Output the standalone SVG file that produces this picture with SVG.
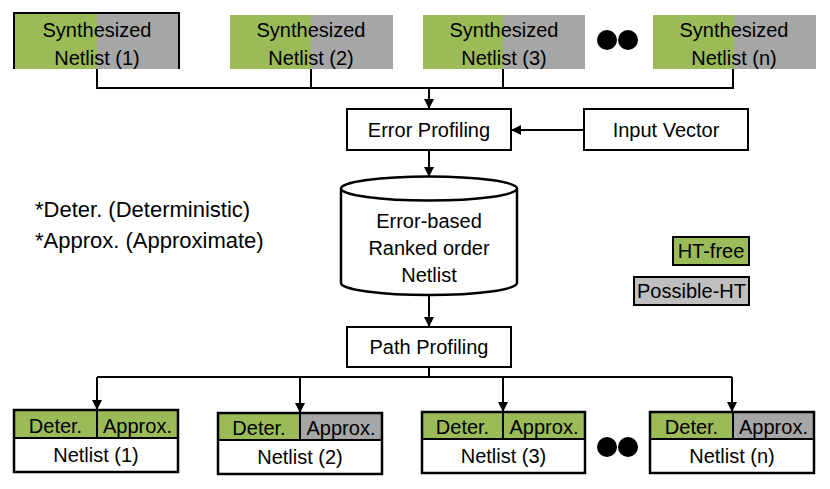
<svg xmlns="http://www.w3.org/2000/svg" width="830" height="489" viewBox="0 0 830 489">
<style>
text{font-family:"Liberation Sans",Arial,sans-serif;font-size:20px;fill:#000;text-anchor:middle}
.g{fill:#9BBB59}
.gr{fill:#A6A6A6}
.box{fill:#fff;stroke:#000;stroke-width:2}
.ln{fill:none;stroke:#000;stroke-width:2}
.ol{fill:none;stroke:#000;stroke-width:2.5}
.lg{text-anchor:start;font-size:22px}
</style>
<defs>
<marker id="ah" markerWidth="10" markerHeight="10" refX="9" refY="5" orient="auto" markerUnits="userSpaceOnUse">
<path d="M0,0 L10,5 L0,10 Z" fill="#000"/>
</marker>
</defs>
<rect width="830" height="489" fill="#fff"/>

<g id="syn1">
<rect class="g" x="14" y="13" width="83" height="56"/>
<rect class="gr" x="97" y="13" width="82" height="56"/>
<path class="ln" d="M14,69 V13 H179 V69"/>
<text x="97" y="37">Synthesized</text>
<text x="97" y="65">Netlist (1)</text>
</g>
<g id="syn2">
<rect class="g" x="230" y="15" width="81" height="54"/>
<rect class="gr" x="311" y="15" width="82" height="54"/>
<text x="311" y="37">Synthesized</text>
<text x="311" y="65">Netlist (2)</text>
</g>
<g id="syn3">
<rect class="g" x="423" y="15" width="80" height="54"/>
<rect class="gr" x="503" y="15" width="82" height="54"/>
<text x="504" y="37">Synthesized</text>
<text x="504" y="65">Netlist (3)</text>
</g>
<g id="dots-top">
<circle cx="607" cy="40" r="10"/>
<circle cx="628" cy="40" r="10"/>
</g>
<g id="synn">
<rect class="g" x="653" y="15" width="81" height="54"/>
<rect class="gr" x="734" y="15" width="82" height="54"/>
<text x="734" y="37">Synthesized</text>
<text x="734" y="65">Netlist (n)</text>
</g>

<g id="errprof">
<rect class="box" x="347" y="109" width="164" height="41"/>
<text x="429" y="137">Error Profiling</text>
</g>
<g id="inputvec">
<rect class="box" x="584" y="109" width="164" height="41"/>
<text x="666" y="137">Input Vector</text>
</g>

<g id="db">
<path d="M341,188.5 V283 A88,12 0 0 0 517,283 V188.5" fill="#fff" stroke="#000" stroke-width="2.5"/>
<ellipse cx="429" cy="188.5" rx="88" ry="12" fill="#fff" stroke="#000" stroke-width="2.5"/>
<text x="429" y="228">Error-based</text>
<text x="429" y="255">Ranked order</text>
<text x="429" y="282">Netlist</text>
</g>

<g id="notes">
<text class="lg" x="35" y="217">*Deter. (Deterministic)</text>
<text class="lg" x="35" y="248">*Approx. (Approximate)</text>
</g>

<g id="legend-htfree">
<rect class="g" x="673" y="237" width="76" height="28" stroke="#000" stroke-width="2"/>
<text x="711" y="258" font-size="19">HT-free</text>
</g>
<g id="legend-possible">
<rect x="634" y="277" width="115" height="28" fill="#BFBFBF" stroke="#000" stroke-width="2"/>
<text x="691.5" y="298" font-size="19">Possible-HT</text>
</g>

<g id="pathprof">
<rect class="box" x="347" y="327" width="164" height="40"/>
<text x="429" y="354">Path Profiling</text>
</g>

<g id="net1">
<rect class="g" x="14" y="410" width="164" height="28"/>
<rect x="14" y="438" width="164" height="34" fill="#fff"/>
<rect class="ol" x="14" y="410" width="164" height="62"/>
<path class="ln" d="M14,438 H178 M97,410 V438"/>
<text x="55.5" y="433">Deter.</text>
<text x="137.5" y="433">Approx.</text>
<text x="96" y="462">Netlist (1)</text>
</g>
<g id="net2">
<rect class="g" x="218" y="413" width="82" height="27"/>
<rect class="gr" x="300" y="413" width="82" height="27"/>
<rect class="ol" x="218" y="413" width="164" height="61"/>
<path class="ln" d="M218,440 H382 M300,413 V440"/>
<text x="259" y="435">Deter.</text>
<text x="341" y="435">Approx.</text>
<text x="300" y="464">Netlist (2)</text>
</g>
<g id="net3">
<rect class="g" x="422" y="412" width="163" height="27"/>
<rect class="ol" x="422" y="412" width="163" height="61"/>
<path class="ln" d="M422,439 H585 M503,412 V439"/>
<text x="462.5" y="434">Deter.</text>
<text x="544" y="434">Approx.</text>
<text x="503.5" y="463">Netlist (3)</text>
</g>
<g id="dots-bottom">
<circle cx="607" cy="447" r="10"/>
<circle cx="628" cy="447" r="10"/>
</g>
<g id="netn">
<rect class="g" x="650" y="412" width="83" height="27"/>
<rect class="gr" x="733" y="412" width="81" height="27"/>
<rect class="ol" x="650" y="412" width="164" height="61"/>
<path class="ln" d="M650,439 H814 M733,412 V439"/>
<text x="691.5" y="434">Deter.</text>
<text x="773.5" y="434">Approx.</text>
<text x="732" y="463">Netlist (n)</text>
</g>

<g id="connectors">
<path class="ln" d="M97,69 V88 H733 V69 M311,69 V88 M503,69 V88"/>
<path class="ln" d="M429,88 V108" marker-end="url(#ah)"/>
<path class="ln" d="M584,130 H512" marker-end="url(#ah)"/>
<path class="ln" d="M429,150 V176" marker-end="url(#ah)"/>
<path class="ln" d="M429,295 V326" marker-end="url(#ah)"/>
<path class="ln" d="M429,367 V377 M97,377 H732"/>
<path class="ln" d="M97,377 V409" marker-end="url(#ah)"/>
<path class="ln" d="M300,377 V412" marker-end="url(#ah)"/>
<path class="ln" d="M503,377 V411" marker-end="url(#ah)"/>
<path class="ln" d="M732,377 V411" marker-end="url(#ah)"/>
</g>
</svg>
